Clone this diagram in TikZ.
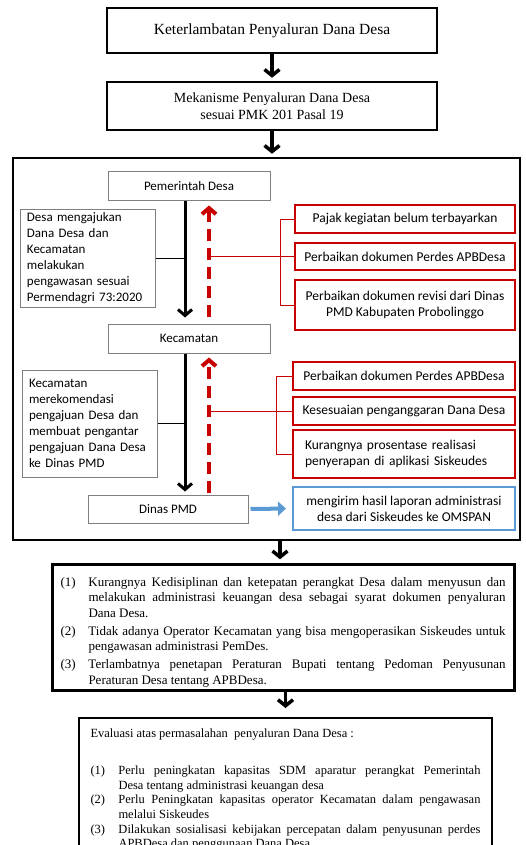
\documentclass[tikz,border=0pt]{standalone}
\usepackage{fontspec}
\setmainfont{Liberation Serif}
\newfontfamily\calibri{Carlito}
\usetikzlibrary{arrows.meta}

\definecolor{merah}{HTML}{C80000}
\definecolor{biru}{HTML}{5B9BD5}
\definecolor{abu}{HTML}{7F7F7F}

\newcommand\butir[2]{\par\noindent\hangindent=28pt\hangafter=1\makebox[28pt][l]{#1}#2}

\tikzset{
  kotak/.style={draw, line width=2.5pt, align=center, minimum width=330pt, font=\fontsize{14}{17}\selectfont},
  kotakabu/.style={draw=abu, line width=1pt, font=\calibri\fontsize{13}{16}\selectfont},
  kotakmerah/.style={draw=merah, line width=2.5pt, font=\calibri\fontsize{13.5}{16}\selectfont},
  daftar/.style={draw, align=justify, execute at begin node={\parskip=#1\hyphenpenalty=10000\relax}},
  panah/.style={line width=3.5pt, -{Straight Barb[length=6pt,width=15pt]}},
  panahhitam/.style={line width=3pt, -{Straight Barb[length=6pt,width=14pt]}},
  panahmerah/.style={merah, line width=4pt, dash pattern=on 12pt off 7pt, -{Straight Barb[length=6pt,width=14pt]}},
  garismerah/.style={merah, line width=0.8pt},
}

\begin{document}
\begin{tikzpicture}[x=1pt, y=-1pt]
    \useasboundingbox (0, 0) rectangle (526, 845) ;
    \clip (0, 0) rectangle (526, 845) ;

    \node[kotak, minimum height=45pt, font=\fontsize{15.5}{18}\selectfont] (telat) at (272, 30.5) {Keterlambatan Penyaluran Dana Desa} ;
    \node[kotak, minimum height=48pt] (mekanisme) at (272, 106) {Mekanisme Penyaluran Dana Desa\\sesuai PMK 201 Pasal 19} ;
    \node[draw, line width=2.5pt, minimum width=507pt, minimum height=382pt] (alur) at (266.5, 349) {} ;

    \node[kotakabu, minimum width=162pt, minimum height=28pt] (pemdes) at (189, 186) {Pemerintah Desa} ;
    \node[kotakabu, minimum width=162pt, minimum height=29pt] (kec) at (189, 338.5) {Kecamatan} ;
    \node[kotakabu, minimum width=160pt, minimum height=28pt] (dinas) at (168, 509) {Dinas PMD} ;
    \node[kotakabu, minimum width=135pt, minimum height=97pt, text width=121pt, align=left] (ajuan) at (87.5, 258.5) {Desa mengajukan\\Dana Desa dan\\Kecamatan\\melakukan\\pengawasan sesuai\\Permendagri 73:2020} ;
    \node[kotakabu, minimum width=135pt, minimum height=107pt, text width=121pt, align=left] (rekom) at (89.5, 423.5) {Kecamatan\\merekomendasi\\pengajuan Desa dan\\membuat pengantar\\pengajuan Dana Desa\\ke Dinas PMD} ;

    \node[kotakmerah, minimum width=220pt, minimum height=28pt] (m1) at (405, 219) {Pajak kegiatan belum terbayarkan} ;
    \node[kotakmerah, minimum width=220pt, minimum height=27pt] (m2) at (405, 256.5) {Perbaikan dokumen Perdes APBDesa} ;
    \node[kotakmerah, minimum width=220pt, minimum height=50pt, align=center] (m3) at (405, 305) {Perbaikan dokumen revisi dari Dinas\\PMD Kabupaten Probolinggo} ;
    \node[kotakmerah, minimum width=222pt, minimum height=28pt] (m4) at (404, 376) {Perbaikan dokumen Perdes APBDesa} ;
    \node[kotakmerah, minimum width=222pt, minimum height=28pt] (m5) at (404, 411) {Kesesuaian penganggaran Dana Desa} ;
    \node[kotakmerah, minimum width=222pt, minimum height=48pt, text width=198pt, align=left] (m6) at (404, 454) {Kurangnya prosentase realisasi\\penyerapan di aplikasi Siskeudes} ;
    \node[draw=biru, line width=2pt, minimum width=222pt, minimum height=43pt, align=center, font=\calibri\fontsize{13.5}{16}\selectfont] (omspan) at (404, 508.5) {mengirim hasil laporan administrasi\\desa dari Siskeudes ke OMSPAN} ;

    \node[daftar=2.5pt, line width=3pt, text width=445pt, inner xsep=8.5pt, minimum height=119pt, font=\fontsize{13}{15.5}\selectfont] (sebab) at (283, 627.5) {%
      \butir{(1)}{Kurangnya Kedisiplinan dan ketepatan perangkat Desa dalam menyusun dan melakukan administrasi keuangan desa sebagai syarat dokumen penyaluran\linebreak Dana Desa.}%
      \butir{(2)}{Tidak adanya Operator Kecamatan yang bisa mengoperasikan Siskeudes untuk pengawasan administrasi PemDes.}%
      \butir{(3)}{Terlambatnya penetapan Peraturan Bupati tentang Pedoman Penyusunan\linebreak Peraturan Desa tentang APBDesa.}\par} ;
    \node[daftar=0pt, line width=2pt, anchor=north, text width=390pt, inner xsep=11.5pt, inner ysep=11pt, font=\fontsize{12.5}{14.7}\selectfont] (evaluasi) at (285.5, 717) {%
      Evaluasi atas permasalahan\ \ penyaluran Dana Desa :\par\vspace{22pt}%
      \butir{(1)}{Perlu peningkatan kapasitas SDM aparatur perangkat Pemerintah\linebreak Desa tentang administrasi keuangan desa}%
      \butir{(2)}{Perlu Peningkatan kapasitas operator Kecamatan dalam pengawasan melalui Siskeudes}%
      \butir{(3)}{Dilakukan sosialisasi kebijakan percepatan dalam penyusunan perdes APBDesa dan penggunaan Dana Desa}\par\vspace{20pt}} ;

    \draw[panah, shorten >=3pt] (telat.south) -- (mekanisme.north) ;
    \draw[panah, shorten >=3pt] (mekanisme.south) -- (mekanisme.south |- alur.north) ;
    \draw[panah, shorten >=4pt] ([xshift=8pt]mekanisme.south |- alur.south) -- ([xshift=8pt]mekanisme.south |- sebab.north) ;
    \draw[panah, shorten >=9pt] (sebab.south -| evaluasi.north) -- (evaluasi.north) ;

    \draw[panahhitam, shorten >=6pt] ([xshift=-4pt]pemdes.south) -- ([xshift=-4pt]kec.north) ;
    \draw[panahmerah, shorten <=7pt, shorten >=5pt] ([xshift=20pt]kec.north) -- ([xshift=20pt]pemdes.south) ;
    \draw[panahhitam, shorten >=3pt] ([xshift=-4pt]kec.south) -- ([xshift=-4pt]kec.south |- dinas.north) ;
    \draw[panahmerah, shorten <=2pt, shorten >=4pt] ([xshift=20pt]kec.south |- dinas.north) -- ([xshift=20pt]kec.south) ;
    \draw[biru, line width=4pt, shorten <=2pt, shorten >=6pt, -{Triangle[length=8pt,width=14pt]}] (dinas.east) -- (omspan.west) ;

    \coordinate (c1) at ([xshift=-4pt]pemdes.south |- ajuan.east) ;
    \coordinate (c2) at ([xshift=-4pt]kec.south |- rekom.east) ;
    \coordinate (j1) at ([xshift=20pt]pemdes.south |- m2.west) ;
    \coordinate (j2) at ([xshift=20pt]kec.south |- m5.west) ;
    \draw[line width=0.8pt] (ajuan.east) -- (c1) ;
    \draw[line width=0.8pt] (rekom.east) -- (c2) ;
    \draw[garismerah] (j1) -- (m2.west) ;
    \draw[garismerah] (m1.west) -- ++(-13pt, 0) |- (m3.west) ;
    \draw[garismerah] (j2) -- (m5.west) ;
    \draw[garismerah] (m4.west) -- ++(-15pt, 0) |- (m6.west) ;
\end{tikzpicture}
\end{document}
